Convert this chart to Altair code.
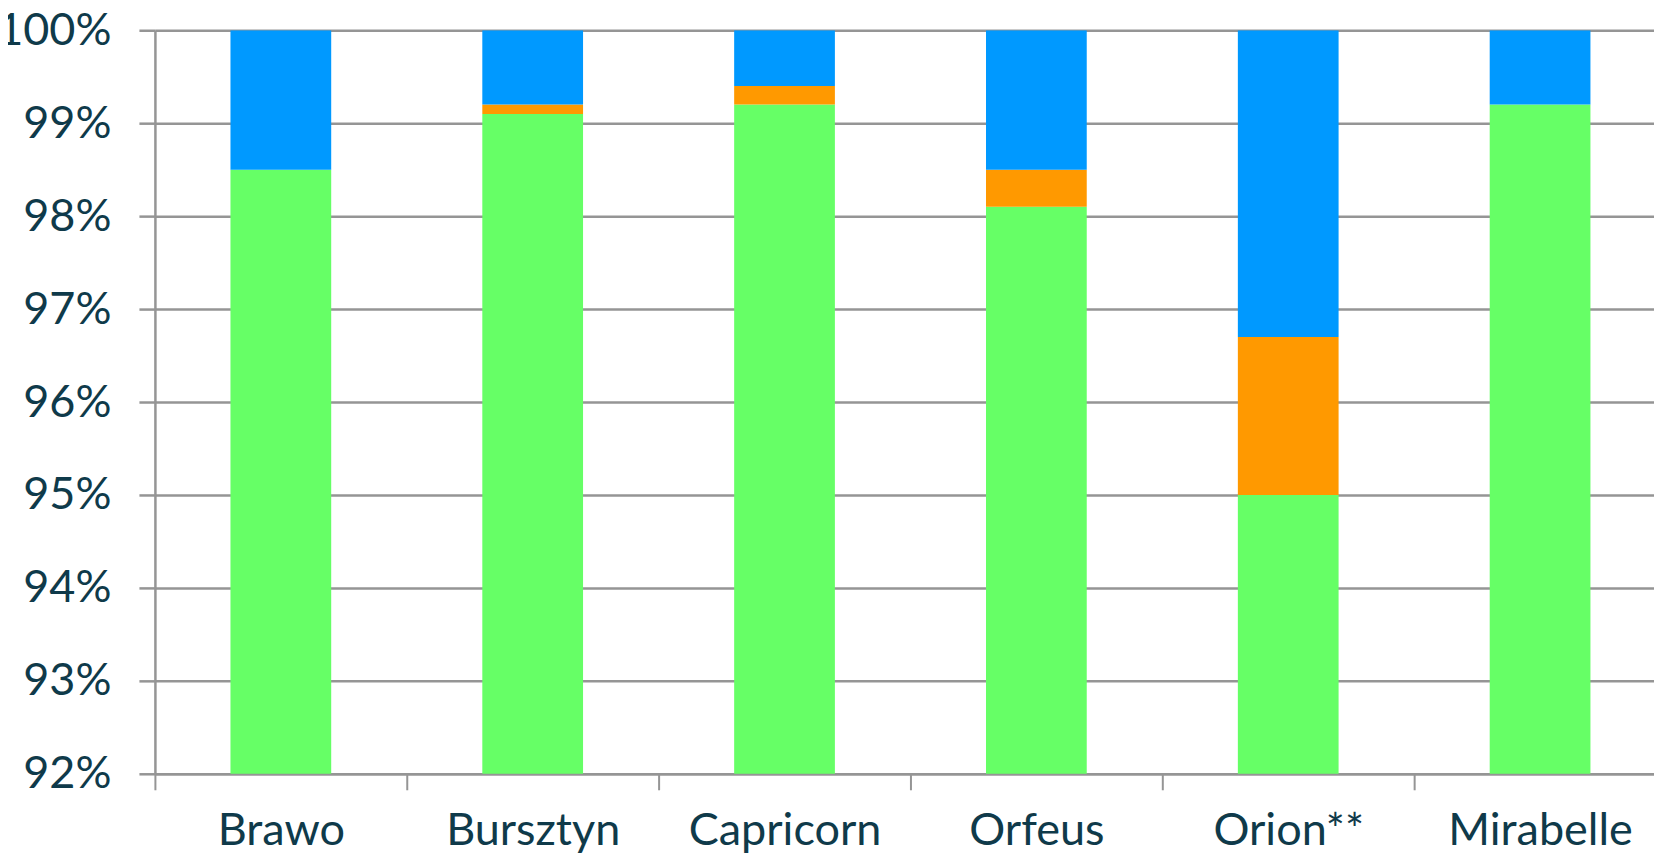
import altair as alt
import pandas as pd

categories = ["Brawo", "Bursztyn", "Capricorn", "Orfeus", "Orion**", "Mirabelle"]
series_names = ["Seria 1", "Seria 2", "Seria 3"]
green = [98.5, 99.1, 99.2, 98.1, 95.0, 99.2]
orange = [0.0, 0.1, 0.2, 0.4, 1.7, 0.0]
blue = [1.5, 0.8, 0.6, 1.5, 3.3, 0.8]
y_ticks = [0.92, 0.93, 0.94, 0.95, 0.96, 0.97, 0.98, 0.99, 1.00]
colors = ["#66FF66", "#FF9900", "#0099FF"]

rows = []
for i, c in enumerate(categories):
    for k, (name, vals) in enumerate(zip(series_names, [green, orange, blue])):
        rows.append({"cat": c, "series": name, "order": k, "value": vals[i] / 100})
df = pd.DataFrame(rows)

FONT = "Lato"
TEXT = "#0f3a4a"
GRID = "#959595"

chart = alt.Chart(df).mark_bar(clip=True).encode(
    x=alt.X("cat:N", sort=categories, title=None,
            scale=alt.Scale(paddingInner=0.6, paddingOuter=0.3),
            axis=alt.Axis(labelAngle=0, labelFont=FONT, labelFontSize=45,
                          labelColor=TEXT, labelLimit=0,
                          bandPosition=0, tickExtra=False, tickOffset=-75.6,
                          labelOffset=75.6, tickSize=16,
                          tickColor=GRID, tickWidth=2, domainColor=GRID,
                          domainWidth=2.5, labelPadding=19, grid=False)),
    y=alt.Y("value:Q", stack="zero", title=None,
            scale=alt.Scale(domain=[0.92, 1.0], zero=False, nice=False),
            axis=alt.Axis(values=y_ticks, format=".0%", labelFont=FONT,
                          labelFontSize=45, labelColor=TEXT, tickSize=16,
                          tickColor=GRID, tickWidth=2.5, domainColor=GRID,
                          domainWidth=2.5, gridColor=GRID, gridWidth=2.5,
                          gridOpacity=1, labelPadding=28)),
    color=alt.Color("series:N", scale=alt.Scale(domain=series_names, range=colors), legend=None),
    order=alt.Order("order:Q", sort="ascending"),
).properties(
    width=1512, height=744,
    autosize=alt.AutoSizeParams(type="none"),
    padding={"left": 147, "top": 22, "right": -12, "bottom": 82},
).configure_view(stroke=None).configure(background="white")

chart.save("out.html", embed_options={"renderer": "svg", "actions": False})
